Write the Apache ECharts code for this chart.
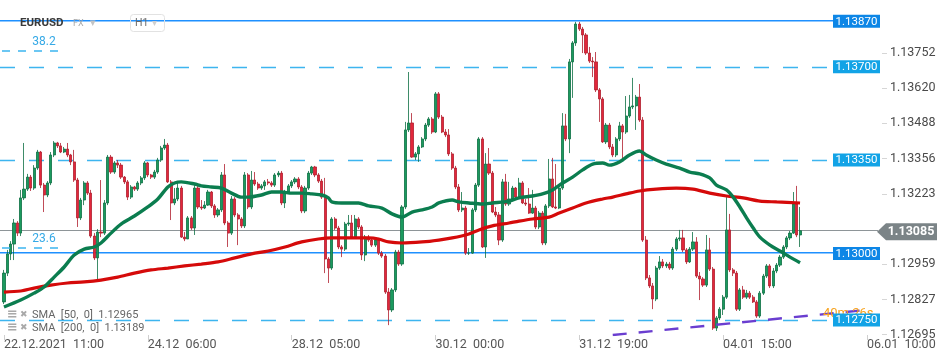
<!DOCTYPE html>
<html><head><meta charset="utf-8">
<script src="https://cdn.jsdelivr.net/npm/echarts@6/dist/echarts.min.js"></script>
<style>html,body{margin:0;padding:0;background:#fff}#c{width:950px;height:361px}</style>
</head><body><div id="c"></div>
<script>
// ---- data (EURUSD H1) ----
const firstOpen = 1.12818;
const closes = [
1.12926,1.12998,1.13035,1.13114,1.13076,1.13208,1.13241,1.13286,1.13245,1.13320,
1.13380,1.13256,1.13219,1.13264,1.13369,1.13414,1.13403,1.13380,1.13391,1.13369,
1.13343,1.13275,1.13133,1.13200,1.13264,1.13226,1.13065,1.12983,1.13080,1.13076,
1.13189,1.13361,1.13305,1.13339,1.13331,1.13286,1.13268,1.13211,1.13249,1.13241,
1.13264,1.13283,1.13339,1.13294,1.13286,1.13305,1.13350,1.13395,1.13406,1.13268,
1.13189,1.13204,1.13245,1.13061,1.13054,1.13133,1.13095,1.13245,1.13174,1.13170,
1.13181,1.13230,1.13178,1.13144,1.13163,1.13294,1.13114,1.13076,1.13204,1.13144,
1.13129,1.13103,1.13294,1.13174,1.13275,1.13260,1.13245,1.13253,1.13268,1.13264,
1.13256,1.13294,1.13301,1.13189,1.13230,1.13253,1.13268,1.13279,1.13249,1.13159,
1.13245,1.13301,1.13324,1.13294,1.13271,1.13211,1.12979,1.12945,1.13129,1.13095,
1.13024,1.13016,1.13110,1.13114,1.13061,1.13129,1.13099,1.12994,1.13061,1.13050,
1.13031,1.13050,1.13001,1.12990,1.12855,1.12788,1.12863,1.13005,1.12960,1.13174,
1.13463,1.13489,1.13361,1.13373,1.13399,1.13429,1.13481,1.13504,1.13455,1.13598,
1.13511,1.13455,1.13444,1.13373,1.13320,1.13249,1.13163,1.13170,1.13001,1.13001,
1.13163,1.13256,1.13429,1.13024,1.13335,1.13301,1.13155,1.13144,1.13050,1.13268,
1.13185,1.13204,1.13245,1.13211,1.13264,1.13189,1.13185,1.13151,1.13170,1.13099,
1.13151,1.13039,1.13178,1.13279,1.13174,1.13170,1.13245,1.13478,1.13429,1.13718,
1.13789,1.13860,1.13841,1.13819,1.13751,1.13721,1.13718,1.13613,1.13579,1.13418,
1.13481,1.13399,1.13369,1.13429,1.13478,1.13455,1.13515,1.13549,1.13553,1.13586,
1.13500,1.13050,1.12908,1.12878,1.12829,1.12945,1.12968,1.12953,1.12960,1.12945,
1.13016,1.13054,1.13058,1.13013,1.12968,1.13016,1.13043,1.12915,1.12904,1.12881,
1.13013,1.12941,1.12720,1.12758,1.12791,1.12836,1.13088,1.12938,1.12926,1.12791,
1.12863,1.12836,1.12851,1.12836,1.12818,1.12765,1.12851,1.12915,1.12953,1.12878,
1.12934,1.12956,1.12986,1.13024,1.13058,1.13076,1.13185,1.13069,1.13085];
const highs = [
1.12938,1.13013,1.13046,1.13129,1.13121,1.13238,1.13414,1.13298,1.13294,1.13331,
1.13388,1.13384,1.13264,1.13271,1.13380,1.13421,1.13418,1.13414,1.13399,1.13414,
1.13373,1.13388,1.13283,1.13208,1.13271,1.13271,1.13238,1.13076,1.13091,1.13275,
1.13200,1.13369,1.13369,1.13346,1.13350,1.13339,1.13290,1.13275,1.13256,1.13253,
1.13271,1.13290,1.13346,1.13343,1.13298,1.13313,1.13358,1.13403,1.13429,1.13414,
1.13275,1.13245,1.13264,1.13253,1.13080,1.13140,1.13140,1.13256,1.13253,1.13200,
1.13196,1.13238,1.13234,1.13185,1.13170,1.13305,1.13335,1.13121,1.13215,1.13211,
1.13151,1.13136,1.13305,1.13301,1.13309,1.13305,1.13268,1.13260,1.13275,1.13279,
1.13271,1.13301,1.13309,1.13309,1.13238,1.13260,1.13275,1.13286,1.13286,1.13256,
1.13253,1.13309,1.13328,1.13328,1.13301,1.13279,1.13283,1.12986,1.13136,1.13136,
1.13103,1.13031,1.13118,1.13144,1.13144,1.13144,1.13136,1.13106,1.13069,1.13069,
1.13058,1.13058,1.13058,1.13009,1.12998,1.12870,1.12870,1.13013,1.13013,1.13181,
1.13493,1.13680,1.13526,1.13380,1.13406,1.13436,1.13489,1.13511,1.13511,1.13605,
1.13605,1.13519,1.13466,1.13466,1.13380,1.13328,1.13260,1.13230,1.13178,1.13020,
1.13170,1.13264,1.13436,1.13436,1.13376,1.13395,1.13309,1.13174,1.13155,1.13279,
1.13298,1.13268,1.13253,1.13249,1.13283,1.13271,1.13204,1.13245,1.13238,1.13178,
1.13159,1.13159,1.13185,1.13354,1.13358,1.13335,1.13253,1.13526,1.13523,1.13729,
1.13796,1.13868,1.13868,1.13849,1.13826,1.13774,1.13736,1.13755,1.13620,1.13586,
1.13489,1.13489,1.13410,1.13436,1.13493,1.13485,1.13590,1.13594,1.13658,1.13594,
1.13635,1.13511,1.13065,1.12919,1.12889,1.12953,1.12990,1.12979,1.12968,1.12968,
1.13024,1.13061,1.13088,1.13088,1.13020,1.13024,1.13080,1.13061,1.12930,1.12911,
1.13069,1.13058,1.12949,1.12765,1.12799,1.12844,1.13211,1.13148,1.12945,1.12934,
1.12870,1.12878,1.12863,1.12859,1.12844,1.12825,1.12859,1.12923,1.12960,1.12960,
1.12945,1.12964,1.12994,1.13031,1.13065,1.13084,1.13230,1.13253,1.13174];
const lows = [
1.12810,1.12915,1.12975,1.12975,1.13065,1.13065,1.13200,1.13234,1.13234,1.13238,
1.13313,1.13245,1.13155,1.13211,1.13256,1.13361,1.13395,1.13376,1.13376,1.13361,
1.13331,1.13268,1.13099,1.13125,1.13181,1.13219,1.13058,1.12975,1.12893,1.13061,
1.13069,1.13181,1.13298,1.13298,1.13320,1.13279,1.13260,1.13200,1.13204,1.13234,
1.13234,1.13256,1.13275,1.13286,1.13279,1.13279,1.13298,1.13343,1.13388,1.13264,
1.13125,1.13181,1.13196,1.13058,1.13046,1.13054,1.13088,1.13069,1.13166,1.13163,
1.13166,1.13178,1.13170,1.13133,1.13136,1.13155,1.13106,1.13024,1.13069,1.13136,
1.13031,1.13095,1.13095,1.13166,1.13166,1.13253,1.13238,1.13238,1.13238,1.13256,
1.13249,1.13249,1.13286,1.13181,1.13170,1.13223,1.13245,1.13260,1.13241,1.13151,
1.13151,1.13238,1.13294,1.13286,1.13264,1.13204,1.12926,1.12889,1.12938,1.13088,
1.13016,1.12986,1.13009,1.13103,1.13054,1.13054,1.13091,1.12975,1.12971,1.13043,
1.13024,1.13024,1.12994,1.12983,1.12848,1.12731,1.12780,1.12855,1.12953,1.12953,
1.13166,1.13455,1.13358,1.13350,1.13343,1.13395,1.13421,1.13474,1.13448,1.13451,
1.13504,1.13451,1.13436,1.13365,1.13313,1.13241,1.13155,1.13155,1.12994,1.12994,
1.12998,1.13155,1.13249,1.13020,1.12983,1.13294,1.13151,1.13136,1.13031,1.13043,
1.13178,1.13178,1.13196,1.13208,1.13208,1.13185,1.13178,1.13148,1.13148,1.13091,
1.13091,1.13031,1.13031,1.13170,1.13170,1.13166,1.13166,1.13238,1.13421,1.13376,
1.13583,1.13778,1.13834,1.13751,1.13744,1.13714,1.13661,1.13605,1.13493,1.13414,
1.13410,1.13391,1.13361,1.13361,1.13421,1.13350,1.13448,1.13508,1.13541,1.13463,
1.13493,1.13043,1.12900,1.12870,1.12791,1.12821,1.12938,1.12945,1.12945,1.12938,
1.12938,1.13009,1.13046,1.13005,1.12960,1.12964,1.13009,1.12908,1.12825,1.12874,
1.12874,1.12934,1.12713,1.12709,1.12750,1.12769,1.12829,1.12930,1.12915,1.12784,
1.12784,1.12829,1.12829,1.12829,1.12814,1.12758,1.12758,1.12844,1.12908,1.12870,
1.12870,1.12926,1.12949,1.12979,1.13016,1.13050,1.13073,1.13061,1.13024];
// moving averages: [candle index, value]
const sma50 = [[0,1.12799],[5,1.12825],[9,1.12851],[12,1.12874],[15,1.12911],[18,1.12949],[21,1.12994],[24,1.13016],[27,1.13024],[29,1.13039],[32,1.13076],[35,1.13110],[39,1.13140],[43,1.13174],[46,1.13204],[49,1.13249],[51,1.13264],[53,1.13268],[57,1.13260],[59,1.13253],[62,1.13249],[65,1.13245],[68,1.13226],[71,1.13211],[73,1.13211],[77,1.13219],[80,1.13230],[83,1.13230],[86,1.13226],[89,1.13226],[92,1.13223],[95,1.13219],[97,1.13208],[98,1.13193],[101,1.13189],[106,1.13189],[109,1.13178],[113,1.13170],[116,1.13148],[119,1.13136],[122,1.13155],[125,1.13163],[128,1.13174],[130,1.13189],[134,1.13200],[136,1.13193],[139,1.13189],[143,1.13185],[146,1.13189],[151,1.13196],[154,1.13208],[158,1.13215],[161,1.13223],[164,1.13238],[167,1.13264],[170,1.13286],[173,1.13313],[176,1.13335],[179,1.13339],[181,1.13331],[184,1.13343],[187,1.13369],[190,1.13384],[192,1.13369],[195,1.13350],[198,1.13335],[202,1.13320],[205,1.13305],[208,1.13298],[211,1.13283],[213,1.13256],[216,1.13238],[218,1.13211],[220,1.13174],[222,1.13133],[224,1.13095],[226,1.13061],[229,1.13031],[232,1.13009],[235,1.12986],[238,1.12965]];
const sma200 = [[0,1.12855],[5,1.12859],[9,1.12870],[14,1.12881],[19,1.12889],[24,1.12893],[29,1.12900],[34,1.12911],[39,1.12926],[44,1.12938],[49,1.12945],[54,1.12953],[59,1.12960],[64,1.12968],[69,1.12983],[74,1.12998],[79,1.13009],[84,1.13024],[89,1.13043],[94,1.13054],[98,1.13058],[104,1.13058],[109,1.13058],[112,1.13054],[115,1.13043],[119,1.13039],[125,1.13043],[130,1.13050],[134,1.13058],[139,1.13073],[142,1.13088],[146,1.13103],[151,1.13114],[154,1.13121],[158,1.13129],[163,1.13136],[166,1.13151],[170,1.13170],[174,1.13189],[179,1.13204],[182,1.13211],[186,1.13223],[190,1.13234],[195,1.13241],[201,1.13245],[206,1.13241],[211,1.13226],[216,1.13215],[221,1.13208],[226,1.13196],[231,1.13193],[238,1.13189]];
const trendLine = [[182,1.12694],[258,1.12788]];
const levelValues = [1.13870, 1.13700, 1.13350, 1.13000, 1.12750];
const levelDashed = [false, true, true, false, true];
const currentPrice = 1.13085;
const fibNames = ['38.2', '23.6'];
const fibValues = [1.13759, 1.13020];
const yTicks = [1.12695,1.12827,1.12959,1.13223,1.13356,1.13488,1.13620,1.13752];
const xTickLabels = ['22.12.2021  11:00','24.12  06:00','28.12  05:00','30.12  00:00','31.12  19:00','04.01  15:00','06.01  10:00'];
const labelStep = 43;
const slotCount = 263;
const smaNames = ['SMA  [50,  0]', 'SMA  [200,  0]'];
const smaLast = [1.12965, 1.13189];

// ---- build ----
const categories = Array.from({length: slotCount}, (_, i) => String(i));
const candles = closes.map((c, i) => [i === 0 ? firstOpen : closes[i - 1], c, lows[i], highs[i]]);

const SOLID = '#1e90ff', DASH = '#3db5ef';
const chart = echarts.init(document.getElementById('c'));
chart.setOption({
  animation: false,
  backgroundColor: '#fff',
  textStyle: { fontFamily: 'Roboto' },
  grid: { left: 2.3, right: 68, top: 0, bottom: 26 },
  xAxis: {
    type: 'category', data: categories, boundaryGap: true,
    axisLine: { show: false },
    axisTick: { show: true, interval: labelStep - 1, alignWithLabel: true, length: 5, lineStyle: { color: '#cfcfcf' } },
    axisLabel: { interval: labelStep - 1, align: 'left', margin: 3, color: '#555', fontSize: 12.5, fontFamily: 'Roboto',
      formatter: (v) => xTickLabels[Number(v) / labelStep] || '' },
    splitLine: { show: false }
  },
  yAxis: {
    type: 'value', position: 'right', min: 1.12694, max: 1.1395, scale: true,
    splitLine: { show: false }, axisLine: { show: false },
    axisTick: { show: true, length: 5, lineStyle: { color: '#d6d6d6' }, customValues: yTicks },
    axisLabel: { customValues: yTicks, formatter: (v) => v.toFixed(5), color: '#4a4a4a', fontSize: 12.5, fontFamily: 'Roboto', margin: 8 }
  },
  series: [
    { type: 'candlestick', data: candles, z: 3, barWidth: 2.6,
      itemStyle: { color: '#1b9a5e', color0: '#e2273b', borderColor: '#0d6e42', borderColor0: '#b01e2d', borderWidth: 0.8 } },
    { type: 'line', data: sma200, z: 4, smooth: 0.3, showSymbol: false, symbol: 'none',
      lineStyle: { color: '#d50a0a', width: 3.2 } },
    { type: 'line', data: sma50, z: 5, smooth: 0.3, showSymbol: false, symbol: 'none',
      lineStyle: { color: '#0b7d4f', width: 3.4 } },
    { type: 'line', data: trendLine, z: 6, showSymbol: false, symbol: 'none',
      lineStyle: { color: '#6a3ed0', width: 2.4, type: [14, 12] } }
  ]
});

function yp(v) { return chart.convertToPixel({ yAxisIndex: 0 }, v); }
const g = [];
function txt(x, y, s, font, fill, align, z) {
  g.push({ type: 'text', x: x, y: y, z: z || 50,
    style: { text: s, font: font, fill: fill, align: align || 'left', verticalAlign: 'middle', textAlign: align || 'left', textVerticalAlign: 'middle' } });
}
function solidLine(y, x2, color, h) {
  g.push({ type: 'rect', z: 0, silent: true, shape: { x: 0, y: Math.round(y) - 1, width: x2, height: h }, style: { fill: color, opacity: 1 } });
}
function dashLine(y, x2, color, w, dash) {
  g.push({ type: 'line', z: 0, silent: true, shape: { x1: 0, y1: y, x2: x2, y2: y }, style: { stroke: color, lineWidth: w, lineDash: dash } });
}
// level lines (behind candles)
levelValues.forEach((v, k) => {
  const y = yp(v);
  if (levelDashed[k]) dashLine(Math.round(y) + 0.5, 833, DASH, 1.5, [15, 14]);
  else solidLine(y, 833, SOLID, 1.5);
});
solidLine(yp(currentPrice), 878, '#8e9598', 1);
// countdown text (behind labels)
txt(823, yp(1.12750) - 6, '40m 26s', '13px Roboto', '#f7a21b', 'left', 20);
// level boxes
levelValues.forEach((v, k) => {
  const y = yp(v);
  g.push({ type: 'rect', z: 60, shape: { x: 833, y: y - 6.5, width: 47, height: 13 }, style: { fill: levelDashed[k] ? '#12a3e6' : '#0d86e6' } });
  txt(856.5, y + 0.5, v.toFixed(5), '11.5px Roboto', '#ffffff', 'center', 61);
});
// current price arrow
(function () {
  const y = yp(currentPrice) + 1;
  g.push({ type: 'polygon', z: 60, shape: { points: [[877, y], [886, y - 8.5], [937, y - 8.5], [937, y + 8.5], [886, y + 8.5]] }, style: { fill: '#7b8487' } });
  txt(911, y, currentPrice.toFixed(5), 'bold 12.5px Roboto', '#ffffff', 'center', 61);
})();
// fibonacci labels
fibValues.forEach((v, k) => {
  const y = yp(v);
  g.push({ type: 'line', z: 40, shape: { x1: 2, y1: y, x2: 60, y2: y }, style: { stroke: '#3db5ef', lineWidth: 1.5, lineDash: [8, 8] } });
  txt(44, y - 9, fibNames[k], '12px Roboto', '#35a9e6', 'center', 41);
});
// header
txt(20, 23, 'EURUSD', 'bold 11.5px Roboto', '#3a3a3a', 'left', 50);
txt(73, 24, 'FX', '9px Roboto', '#a8a8a8', 'left', 50);
txt(90, 23, '▾', '11px DejaVu Sans', '#c4c4c4', 'left', 50);
g.push({ type: 'rect', z: 50, shape: { x: 130.5, y: 14.5, width: 34, height: 17, r: 3 }, style: { fill: 'none', stroke: '#e2e2e2', lineWidth: 1 } });
txt(135, 23, 'H1', '10.5px Roboto', '#6a6a6a', 'left', 51);
txt(152, 23, '▾', '10px DejaVu Sans', '#cfcfcf', 'left', 51);
// SMA legend
smaNames.forEach((n, k) => {
  const y = 315 + k * 13;
  txt(7, y, '≡', 'bold 13px DejaVu Sans', '#a9a9a9', 'left', 50);
  txt(20, y, '✖', '9px DejaVu Sans', '#a9a9a9', 'left', 50);
  txt(32, y, n + '  ' + smaLast[k].toFixed(5), '11px Roboto', '#666666', 'left', 50);
});
chart.setOption({ graphic: { elements: g } });
</script>
</body></html>
